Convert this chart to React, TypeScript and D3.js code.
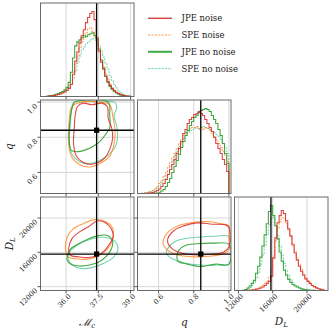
import React from 'react';
import * as d3 from 'd3';

// ---------- series ----------
const seriesNames = ['JPE noise', 'SPE noise', 'JPE no noise', 'SPE no noise'];
const seriesColors = ['#d62728', '#ff7f0e', '#2ca02c', '#66cdaa'];
const seriesDashed = [false, true, false, true];
const seriesOpacity = [0.85, 0.75, 0.9, 0.9];

// ---------- truth ----------
const truthMc = 37.42;
const truthQ = 0.84;
const truthDL = 15800;

// ---------- ticks ----------
const mcTicks = [36.0, 37.5, 39.0];
const mcTickLabels = ['36.0', '37.5', '39.0'];
const qTicks = [0.6, 0.8, 1.0];
const qTickLabels = ['0.6', '0.8', '1.0'];
const dlTicks = [12000, 16000, 20000];
const dlTickLabels = ['12000', '16000', '20000'];

// ---------- 1D histograms ----------
const mcBinStart = 35.0;
const mcBinWidth = 0.1;
const mcHistJPENoise = [0, 0.3, 0.5, 0.8, 1, 1.5, 2, 2.5, 3.5, 4.5, 6, 8, 12, 22, 35, 44, 53, 60, 66, 73, 78, 82, 84, 76, 58, 45, 34, 27, 20, 15, 11, 8, 6, 4, 3, 2, 1.2, 0.8, 0.4, 0.2, 0];
const mcHistSPENoise = [0, 0.3, 0.6, 1, 1.3, 2, 2.5, 3.5, 4.5, 6, 8, 11, 16, 24, 32, 40, 48, 54, 58, 63, 67, 68, 64, 60, 52, 44, 36, 29, 22, 17, 12, 9, 6.5, 4.5, 3, 2, 1.3, 0.8, 0.5, 0.2, 0];
const mcHistJPENoNoise = [0, 0.3, 0.6, 1, 1.5, 2.2, 3, 4, 5, 6.5, 9, 14, 24, 38, 50, 54, 56, 58, 60, 59, 61, 62, 63, 60, 56, 47, 36, 28, 20, 14, 10, 7, 5, 3.5, 2.2, 1.4, 0.9, 0.5, 0.3, 0.1, 0];
const mcHistSPENoNoise = [0, 0.2, 0.4, 0.7, 1, 1.5, 2, 3, 4, 5, 7, 9, 13, 18, 25, 33, 40, 46, 49, 52, 54, 56, 57, 58, 55, 50, 45, 39, 33, 27, 21, 16, 12, 8.5, 6, 4, 2.5, 1.5, 0.8, 0.4, 0.1];

const qBinStart = 0.5;
const qBinWidth = 0.0125;
const qHistJPENoise = [0, 0, 0.2, 0.4, 0.6, 1, 1.8, 3, 4.5, 7, 10, 14, 19, 24, 29, 34, 40, 45, 52, 60, 64, 70, 74, 76, 79, 80, 82, 80, 78, 74, 70, 66, 62, 56, 50, 45, 40, 34, 29, 22];
const qHistSPENoise = [0.3, 0.6, 1, 1.5, 2.2, 3, 4.5, 7, 10, 13, 17, 21, 26, 31, 36, 40, 45, 50, 54, 58, 61, 63, 65, 66, 66, 67, 65, 66, 64, 66, 65, 63, 60, 57, 54, 50, 46, 42, 38, 32];
const qHistJPENoNoise = [0, 0, 0, 0, 0, 0, 0.2, 0.5, 1.2, 2.5, 4, 7, 11, 15, 21, 27, 33, 39, 46, 52, 58, 63, 68, 72, 76, 78, 81, 83, 84, 85, 84, 82, 78, 74, 70, 64, 58, 50, 40, 30];
const qHistSPENoNoise = [0.2, 0.4, 0.8, 1.2, 1.8, 2.6, 3.8, 5.5, 8, 11, 14, 18, 23, 28, 33, 38, 42, 47, 51, 55, 58, 61, 63, 64, 65, 66, 64, 66, 67, 66, 65, 64, 62, 61, 59, 57, 54, 50, 46, 40];

const dlBinStart = 12500;
const dlBinWidth = 250;
const dlHistJPENoise = [0, 0.1, 0.2, 0.3, 0.5, 0.8, 1.2, 1.8, 2.5, 3.5, 5, 7, 9, 14, 32, 52, 67, 74, 79, 76, 69, 61, 54, 45, 37, 30, 24, 19, 15, 11.5, 9, 7, 5, 3.8, 2.6, 1.8, 1.1, 0.7];
const dlHistSPENoise = [0, 0.2, 0.3, 0.5, 0.8, 1.2, 1.8, 2.5, 3.5, 5, 7, 9.5, 13, 20, 34, 49, 61, 68, 72, 71, 66, 60, 53, 46, 39, 32, 26, 21, 16, 12.5, 9.5, 7.5, 5.5, 4, 3, 2, 1.3, 0.8];
const dlHistJPENoNoise = [0.3, 1, 2.5, 4.5, 7, 10, 17, 24, 33, 44, 55, 66, 78, 84, 74, 64, 51, 38, 29, 20, 15, 11, 8, 6, 4.5, 3.5, 2.5, 1.6, 1, 0.7, 0.4, 0.3, 0.2, 0.1, 0, 0, 0, 0];
const dlHistSPENoNoise = [0.2, 0.6, 1.5, 3, 5, 7.5, 12, 18, 26, 35, 45, 55, 65, 71, 72, 64, 54, 44, 35, 27, 20, 15, 11, 8, 6, 4.5, 3.3, 2.3, 1.6, 1.1, 0.7, 0.5, 0.3, 0.2, 0, 0, 0, 0];

// ---------- 2D contours (one credible level) ----------
// Mc vs q
const mcQJPENoise = [[36.53, 0.975], [36.81, 0.994], [37.19, 0.985], [37.66, 0.994], [37.92, 0.975], [37.96, 0.909], [38.12, 0.853], [38.17, 0.797], [38.03, 0.731], [37.81, 0.684], [37.5, 0.656], [37.12, 0.646], [36.74, 0.661], [36.48, 0.693], [36.35, 0.759], [36.38, 0.853], [36.43, 0.928]];
const mcQSPENoise = [[36.26, 0.975], [36.71, 1.0], [37.58, 1.0], [38.03, 0.985], [38.19, 0.909], [38.28, 0.834], [38.23, 0.759], [38.03, 0.693], [37.66, 0.656], [37.12, 0.631], [36.66, 0.642], [36.28, 0.684], [36.12, 0.759], [36.12, 0.853], [36.17, 0.928]];
const mcQJPENoNoise = [[36.38, 1.0], [37.96, 1.0], [38.03, 0.928], [38.03, 0.853], [37.85, 0.819], [37.58, 0.777], [37.27, 0.749], [36.96, 0.731], [36.58, 0.718], [36.24, 0.725], [36.15, 0.777], [36.15, 0.853], [36.22, 0.928], [36.31, 0.985]];
const mcQSPENoNoise = [[36.43, 1.0], [37.58, 1.0], [38.26, 1.0], [38.36, 0.97], [38.23, 0.922], [38.36, 0.862], [38.4, 0.806], [38.3, 0.749], [38.03, 0.706], [37.58, 0.669], [37.04, 0.65], [36.63, 0.661], [36.28, 0.703], [36.15, 0.777], [36.2, 0.872], [36.26, 0.956]];
// Mc vs DL
const mcDLJPENoise = [[36.12, 16423], [36.27, 17566], [36.66, 18446], [37.04, 18972], [37.45, 19658], [37.85, 19429], [38.11, 18709], [38.19, 17829], [38.03, 16994], [37.8, 16229], [37.5, 15657], [37.04, 15394], [36.58, 15474], [36.2, 15657]];
const mcDLSPENoise = [[35.97, 16423], [36.05, 17760], [36.32, 18709], [36.74, 19280], [37.35, 19815], [37.84, 19587], [38.15, 18903], [38.21, 17943], [38.09, 16994], [37.84, 16160], [37.47, 15543], [36.97, 15200], [36.47, 15246], [36.1, 15474]];
const mcDLJPENoNoise = [[36.05, 15474], [36.22, 16423], [36.58, 16994], [37.04, 17566], [37.5, 17943], [37.96, 17943], [38.16, 17372], [38.11, 16423], [37.88, 15543], [37.55, 14903], [37.09, 14514], [36.63, 14400], [36.22, 14628], [36.05, 15086]];
const mcDLSPENoNoise = [[36.12, 15851], [36.43, 16686], [36.96, 17372], [37.58, 17760], [38.11, 17566], [38.36, 16994], [38.4, 16160], [38.19, 15394], [37.8, 14789], [37.35, 14331], [36.89, 14103], [36.48, 14251], [36.17, 14789]];
// q vs DL
const qDLJPENoise = [[0.651, 17372], [0.686, 18515], [0.743, 19086], [0.819, 19429], [0.905, 19280], [0.981, 19200], [1.0, 18903], [1.0, 16617], [0.971, 16046], [0.895, 15771], [0.819, 15703], [0.743, 15851], [0.676, 16423]];
const qDLSPENoise = [[0.625, 17074], [0.648, 18217], [0.705, 19052], [0.781, 19429], [0.876, 19587], [0.952, 19360], [1.0, 19086], [1.0, 17760], [1.0, 16309], [0.962, 15771], [0.886, 15543], [0.8, 15474], [0.724, 15623], [0.657, 16160]];
const qDLJPENoNoise = [[0.705, 15280], [0.714, 16229], [0.752, 16800], [0.819, 16994], [0.914, 17074], [1.0, 16914], [1.0, 14628], [0.924, 14628], [0.838, 14331], [0.762, 14628], [0.714, 14903]];
const qDLSPENoNoise = [[0.644, 15926], [0.671, 16914], [0.724, 17486], [0.819, 17760], [0.924, 17874], [1.0, 17829], [1.0, 14628], [0.933, 14514], [0.838, 14514], [0.743, 14789], [0.676, 15280]];

// ---------- layout ----------
const W = 332;
const H = 332;
const PL = 40.5;
const PT = 3;
const PS = 93.5;
const PG = 3.5;
const px = (c: number) => PL + c * (PS + PG);
const py = (r: number) => PT + r * (PS + PG);

const params = [
  { domain: [34.81, 39.16], ticks: mcTicks, labels: mcTickLabels, truth: truthMc, binStart: mcBinStart, binWidth: mcBinWidth, hists: [mcHistJPENoise, mcHistSPENoise, mcHistJPENoNoise, mcHistSPENoNoise] },
  { domain: [0.48, 1.012], ticks: qTicks, labels: qTickLabels, truth: truthQ, binStart: qBinStart, binWidth: qBinWidth, hists: [qHistJPENoise, qHistSPENoise, qHistJPENoNoise, qHistSPENoNoise] },
  { domain: [11550, 22450], ticks: dlTicks, labels: dlTickLabels, truth: truthDL, binStart: dlBinStart, binWidth: dlBinWidth, hists: [dlHistJPENoise, dlHistSPENoise, dlHistJPENoNoise, dlHistSPENoNoise] },
];

const contours: Record<string, number[][][]> = {
  '1-0': [mcQJPENoise, mcQSPENoise, mcQJPENoNoise, mcQSPENoNoise],
  '2-0': [mcDLJPENoise, mcDLSPENoise, mcDLJPENoNoise, mcDLSPENoNoise],
  '2-1': [qDLJPENoise, qDLSPENoise, qDLJPENoNoise, qDLSPENoNoise],
};

const xScale = (c: number) => d3.scaleLinear().domain(params[c].domain).range([px(c), px(c) + PS]);
const yScale = (r: number) => d3.scaleLinear().domain(params[r].domain).range([py(r) + PS, py(r)]);

const FONT = 'DejaVu Serif';
const GRID = '#d4d4d4';
const BORDER = '#6a6a6a';

function Panel({ r, c }: { r: number; c: number }) {
  const x0 = px(c);
  const y0 = py(r);
  const xs = xScale(c);
  const diag = r === c;
  const clipId = `clip-${r}-${c}`;
  const items: React.ReactNode[] = [];

  // grid
  params[c].ticks.forEach((t, i) => {
    items.push(<line key={`gx${i}`} x1={xs(t)} x2={xs(t)} y1={y0} y2={y0 + PS} stroke={GRID} strokeWidth={0.9} />);
  });
  if (!diag) {
    const ys = yScale(r);
    params[r].ticks.forEach((t, i) => {
      items.push(<line key={`gy${i}`} x1={x0} x2={x0 + PS} y1={ys(t)} y2={ys(t)} stroke={GRID} strokeWidth={0.9} />);
    });
  }

  const marks: React.ReactNode[] = [];
  if (diag) {
    const p = params[c];
    const maxV = d3.max(p.hists.flat()) as number;
    const hy = d3.scaleLinear().domain([0, maxV * 1.1]).range([y0 + PS, y0]);
    const line = d3.line<number[]>().x((d) => xs(d[0])).y((d) => hy(d[1])).curve(d3.curveStepAfter);
    const order = [3, 1, 2, 0];
    order.forEach((s) => {
      const vals = p.hists[s];
      const pts: number[][] = [[p.binStart, 0]];
      vals.forEach((v, i) => pts.push([p.binStart + i * p.binWidth, v]));
      const end = p.binStart + vals.length * p.binWidth;
      pts.push([end, vals[vals.length - 1]]);
      pts.push([end, 0]);
      marks.push(
        <path key={`h${s}`} d={line(pts) || ''} fill="none" stroke={seriesColors[s]} strokeOpacity={seriesOpacity[s]}
          strokeWidth={seriesDashed[s] ? 1 : 1.1} strokeDasharray={seriesDashed[s] ? '2.2,1.2' : undefined} />
      );
    });
    marks.push(<line key="truth" x1={xs(p.truth)} x2={xs(p.truth)} y1={y0} y2={y0 + PS} stroke="#000" strokeWidth={1.3} />);
  } else {
    const ys = yScale(r);
    const line = d3.line<number[]>().x((d) => xs(d[0])).y((d) => ys(d[1])).curve(d3.curveCatmullRomClosed.alpha(0.5));
    const cs = contours[`${r}-${c}`];
    [3, 1, 2, 0].forEach((s) => {
      marks.push(
        <path key={`c${s}`} d={line(cs[s]) || ''} fill="none" stroke={seriesColors[s]} strokeOpacity={seriesOpacity[s]} strokeWidth={1.1} />
      );
    });
    const tx = xs(params[c].truth);
    const ty = ys(params[r].truth);
    marks.push(<line key="tv" x1={tx} x2={tx} y1={y0} y2={y0 + PS} stroke="#000" strokeWidth={1.3} />);
    marks.push(<line key="th" x1={x0} x2={x0 + PS} y1={ty} y2={ty} stroke="#000" strokeWidth={1.3} />);
    marks.push(<rect key="tm" x={tx - 2.6} y={ty - 2.6} width={5.2} height={5.2} fill="#000" />);
  }

  // ticks
  const ticks: React.ReactNode[] = [];
  params[c].ticks.forEach((t, i) => {
    const x = xs(t);
    ticks.push(<line key={`tx${i}`} x1={x} x2={x} y1={y0 + PS} y2={y0 + PS + 3} stroke="#333" strokeWidth={0.8} />);
    if (r === 2) {
      ticks.push(
        <text key={`lx${i}`} transform={`translate(${x + 4},${y0 + PS + 5}) rotate(-45)`} textAnchor="end"
          fontFamily={FONT} fontSize={7} fill="#222" dominantBaseline="central">{params[c].labels[i]}</text>
      );
    }
  });
  if (!diag) {
    const ys = yScale(r);
    params[r].ticks.forEach((t, i) => {
      const y = ys(t);
      ticks.push(<line key={`ty${i}`} x1={x0 - 3} x2={x0} y1={y} y2={y} stroke="#333" strokeWidth={0.8} />);
      if (c === 0) {
        ticks.push(
          <text key={`ly${i}`} transform={`translate(${x0 - 4},${y + 3}) rotate(-45)`} textAnchor="end"
            fontFamily={FONT} fontSize={7} fill="#222" dominantBaseline="central">{params[r].labels[i]}</text>
        );
      }
    });
  }

  return (
    <g>
      <defs>
        <clipPath id={clipId}><rect x={x0} y={y0} width={PS} height={PS} /></clipPath>
      </defs>
      {items}
      <g clipPath={`url(#${clipId})`}>{marks}</g>
      <rect x={x0} y={y0} width={PS} height={PS} fill="none" stroke={BORDER} strokeWidth={1} />
      {ticks}
    </g>
  );
}

export default function App() {
  const panels: React.ReactNode[] = [];
  for (let r = 0; r < 3; r++) {
    for (let c = 0; c <= r; c++) panels.push(<Panel key={`${r}-${c}`} r={r} c={c} />);
  }
  const legendY = [18.3, 35, 51.8, 68.6];
  const legendW = [1.5, 1, 2, 1];
  return (
    <svg width={W} height={H} style={{ position: 'absolute', left: 0, top: 0, background: '#fff' }}>
      <rect x={0} y={0} width={W} height={H} fill="#fff" />
      {panels}
      {seriesNames.map((n, i) => (
        <g key={n}>
          <line x1={148} x2={172} y1={legendY[i]} y2={legendY[i]} stroke={seriesColors[i]} strokeOpacity={seriesOpacity[i]}
            strokeWidth={legendW[i]} strokeDasharray={seriesDashed[i] ? '2.2,1.2' : undefined} />
          <text x={181.5} y={legendY[i]} dominantBaseline="central" fontFamily={FONT} fontSize={8.5} fill="#222">{n}</text>
        </g>
      ))}
      {/* axis labels */}
      <text x={px(0) + PS / 2} y={326} textAnchor="middle" fontFamily={FONT} fontSize={10.5} fontStyle="italic" fill="#222">
        ℳ<tspan fontSize={7} dy={2}>c</tspan>
      </text>
      <text x={px(1) + PS / 2} y={326} textAnchor="middle" fontFamily={FONT} fontSize={10.5} fontStyle="italic" fill="#222">q</text>
      <text x={px(2) + PS / 2} y={325} textAnchor="middle" fontFamily={FONT} fontSize={10.5} fontStyle="italic" fill="#222">
        D<tspan fontSize={7} dy={2}>L</tspan>
      </text>
      <text transform={`translate(13,${py(1) + PS / 2}) rotate(-90)`} textAnchor="middle" fontFamily={FONT} fontSize={10.5} fontStyle="italic" fill="#222">q</text>
      <text transform={`translate(13,${py(2) + PS / 2}) rotate(-90)`} textAnchor="middle" fontFamily={FONT} fontSize={10.5} fontStyle="italic" fill="#222">
        D<tspan fontSize={7} dy={2}>L</tspan>
      </text>
    </svg>
  );
}
